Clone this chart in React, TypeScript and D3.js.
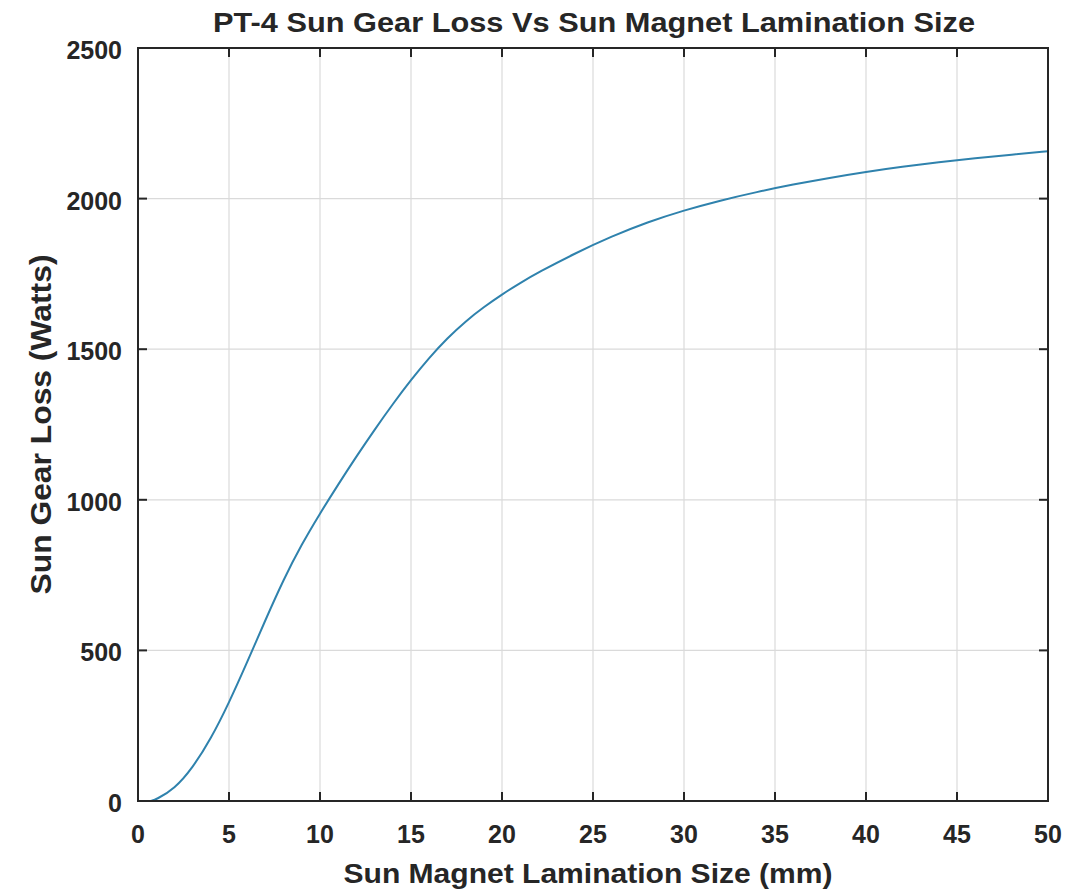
import React from "react";
import * as d3 from "d3";

const title = "PT-4 Sun Gear Loss Vs Sun Magnet Lamination Size";
const xLabel = "Sun Magnet Lamination Size (mm)";
const yLabel = "Sun Gear Loss (Watts)";

const xTicks = [0, 5, 10, 15, 20, 25, 30, 35, 40, 45, 50];
const yTicks = [0, 500, 1000, 1500, 2000, 2500];

const sizeMm = [0.7, 1, 2, 3, 4, 5, 6, 7, 8, 9, 10, 11, 12, 13, 14, 15, 16, 17, 18, 19, 20, 21, 22, 24, 26, 28, 30, 32, 34, 36, 38, 40, 42, 44, 46, 48, 50];
const lossW = [0, 5, 40, 110, 206, 326, 461, 601, 736, 853, 955, 1051, 1144, 1233, 1318, 1398, 1472, 1537, 1593, 1640, 1682, 1720, 1755, 1818, 1874, 1922, 1961, 1994, 2022, 2047, 2069, 2089, 2106, 2121, 2134, 2146, 2157];

const W = 1087;
const H = 892;
const M = { left: 138, right: 1048, top: 48, bottom: 801 };
const FONT = "'Liberation Sans', Arial, sans-serif";
const AXIS = "#262626";
const GRID = "#dadada";

export default function App() {
  const x = d3.scaleLinear().domain([0, 50]).range([M.left, M.right]);
  const y = d3.scaleLinear().domain([0, 2500]).range([M.bottom, M.top]);
  const pts: [number, number][] = sizeMm.map((v, i) => [v, lossW[i]]);
  const line = d3
    .line<[number, number]>()
    .x((d) => x(d[0]))
    .y((d) => y(d[1]))
    .curve(d3.curveBasis);
  const tickLen = 9;

  return (
    <svg
      width={W}
      height={H}
      style={{ position: "absolute", left: 0, top: 0, background: "#fff" }}
      fontFamily={FONT}
    >
      <rect x={0} y={0} width={W} height={H} fill="#fff" />
      {xTicks.map((t) => (
        <line key={"gx" + t} x1={x(t)} x2={x(t)} y1={M.top} y2={M.bottom} stroke={GRID} strokeWidth={1.2} />
      ))}
      {yTicks.map((t) => (
        <line key={"gy" + t} x1={M.left} x2={M.right} y1={y(t)} y2={y(t)} stroke={GRID} strokeWidth={1.2} />
      ))}
      <path d={line(pts) || ""} fill="none" stroke="#2f82ad" strokeWidth={2} />
      <rect
        x={M.left}
        y={M.top}
        width={M.right - M.left}
        height={M.bottom - M.top}
        fill="none"
        stroke={AXIS}
        strokeWidth={2}
      />
      {xTicks.map((t) => (
        <g key={"tx" + t}>
          <line x1={x(t)} x2={x(t)} y1={M.bottom} y2={M.bottom - tickLen} stroke={AXIS} strokeWidth={2} />
          <line x1={x(t)} x2={x(t)} y1={M.top} y2={M.top + tickLen} stroke={AXIS} strokeWidth={2} />
          <text x={x(t)} y={843} textAnchor="middle" fontSize={25} fontWeight="bold" fill={AXIS}>
            {t}
          </text>
        </g>
      ))}
      {yTicks.map((t) => (
        <g key={"ty" + t}>
          <line x1={M.left} x2={M.left + tickLen} y1={y(t)} y2={y(t)} stroke={AXIS} strokeWidth={2} />
          <line x1={M.right} x2={M.right - tickLen} y1={y(t)} y2={y(t)} stroke={AXIS} strokeWidth={2} />
          <text x={122} y={y(t) + 11} textAnchor="end" fontSize={25} fontWeight="bold" fill={AXIS}>
            {t}
          </text>
        </g>
      ))}
      <text
        x={594}
        y={32}
        textAnchor="middle"
        fontSize={28}
        fontWeight="bold"
        fill={AXIS}
        textLength={762}
        lengthAdjust="spacingAndGlyphs"
      >
        {title}
      </text>
      <text
        x={588}
        y={883}
        textAnchor="middle"
        fontSize={28}
        fontWeight="bold"
        fill={AXIS}
        textLength={489}
        lengthAdjust="spacingAndGlyphs"
      >
        {xLabel}
      </text>
      <text
        transform={`translate(51, ${(M.top + M.bottom) / 2}) rotate(-90)`}
        textAnchor="middle"
        fontSize={29}
        fontWeight="bold"
        fill={AXIS}
        textLength={340}
        lengthAdjust="spacingAndGlyphs"
      >
        {yLabel}
      </text>
    </svg>
  );
}
